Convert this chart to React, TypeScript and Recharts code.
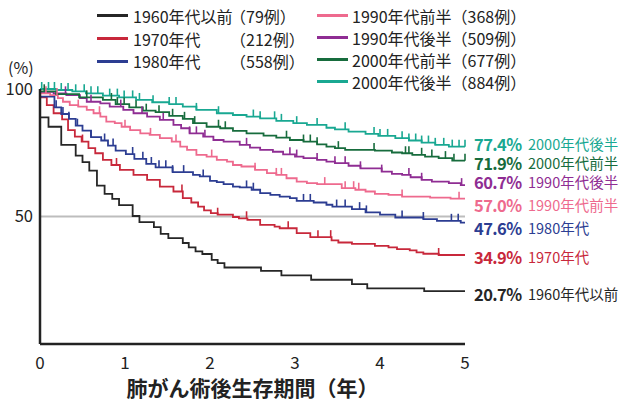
import { LineChart, Line, XAxis, YAxis, ReferenceLine } from 'recharts';

type Pt = [number, number];

// Kaplan-Meier steps: [years, survival %]
const km1960: Pt[] = [
  [0, 88.9], [0.1, 85.2], [0.25, 78.1], [0.42, 73.9], [0.5, 71.3], [0.58, 68.0], [0.67, 62.1], [0.76, 58.9],
  [0.85, 56.9], [0.93, 54.5], [1.09, 50.2], [1.17, 47.8], [1.34, 45.8], [1.42, 43.2], [1.51, 41.5], [1.68, 39.6],
  [1.75, 37.9], [1.83, 36.3], [1.91, 35.3], [2.02, 33.0], [2.09, 31.7], [2.17, 30.0], [2.6, 28.7], [2.84, 26.9],
  [3.19, 25.2], [3.67, 23.5], [3.85, 21.8], [4.52, 20.7], [5, 20.7],
];
const km1970: Pt[] = [
  [0, 96.7], [0.08, 93.7], [0.16, 90.5], [0.26, 88.1], [0.33, 83.9], [0.41, 81.3], [0.49, 79.4], [0.57, 76.8],
  [0.65, 74.8], [0.74, 72.2], [0.84, 70.2], [0.94, 68.3], [1.1, 66.3], [1.26, 64.4], [1.41, 61.7], [1.57, 59.8],
  [1.68, 57.2], [1.78, 55.5], [1.86, 53.9], [1.93, 52.4], [2.01, 51.3], [2.09, 50.7], [2.27, 49.8], [2.34, 49.3],
  [2.44, 48.7], [2.59, 46.7], [2.76, 46.0], [2.82, 45.4], [3.02, 43.5], [3.18, 41.9], [3.43, 40.6], [3.51, 39.8],
  [3.67, 39.3], [3.94, 38.5], [4.1, 37.9], [4.2, 37.2], [4.35, 36.7], [4.43, 35.9], [4.51, 35.4], [4.69, 34.9], [5, 34.9],
];
const km1980: Pt[] = [
  [0, 97.0], [0.17, 92.8], [0.25, 90.2], [0.34, 88.3], [0.42, 85.6], [0.5, 83.7], [0.6, 81.1], [0.72, 79.8],
  [0.8, 77.8], [0.89, 75.8], [1.01, 74.5], [1.11, 72.6], [1.25, 70.6], [1.36, 69.3], [1.56, 67.4], [1.8, 66.3],
  [1.88, 65.7], [2.0, 64.0], [2.08, 63.5], [2.16, 62.7], [2.27, 61.7], [2.35, 61.4], [2.49, 60.5], [2.59, 59.2],
  [2.71, 58.5], [2.82, 57.8], [2.94, 57.2], [3.02, 56.1], [3.22, 55.5], [3.37, 54.6], [3.44, 53.9], [3.67, 52.9],
  [3.83, 51.6], [4.0, 50.7], [4.18, 49.6], [4.51, 49.0], [4.67, 48.3], [4.95, 47.6], [5, 47.6],
];
const km1990a: Pt[] = [
  [0, 98.3], [0.12, 97.6], [0.21, 96.4], [0.27, 95.0], [0.35, 93.7], [0.45, 93.1], [0.55, 91.8], [0.63, 90.5],
  [0.71, 89.2], [0.78, 87.2], [0.88, 86.6], [0.96, 85.2], [1.06, 83.9], [1.18, 82.6], [1.29, 82.0], [1.41, 80.7],
  [1.55, 79.4], [1.65, 77.4], [1.73, 76.1], [1.84, 74.2], [1.96, 73.5], [2.08, 72.2], [2.2, 71.5], [2.27, 70.2],
  [2.37, 69.6], [2.53, 68.3], [2.67, 67.0], [2.78, 66.3], [2.9, 65.0], [3.02, 63.7], [3.14, 63.1], [3.26, 62.7],
  [3.55, 61.1], [3.71, 60.5], [3.83, 59.8], [3.94, 58.9], [4.1, 58.5], [4.26, 57.8], [4.59, 57.4], [4.83, 57.0], [5, 57.0],
];
const km1990b: Pt[] = [
  [0, 98.9], [0.16, 98.3], [0.31, 97.6], [0.47, 96.4], [0.55, 95.0], [0.71, 94.4], [0.82, 93.1], [0.98, 91.8],
  [1.1, 90.5], [1.26, 89.2], [1.41, 87.9], [1.57, 85.9], [1.66, 84.6], [1.76, 82.6], [1.92, 81.3], [2.04, 80.0],
  [2.16, 79.4], [2.35, 78.1], [2.47, 77.0], [2.59, 76.1], [2.74, 75.4], [2.86, 74.4], [3.0, 73.5], [3.1, 72.9],
  [3.26, 72.2], [3.37, 71.5], [3.47, 70.9], [3.63, 69.9], [3.77, 68.9], [4.02, 67.6], [4.14, 66.7], [4.26, 66.3],
  [4.36, 65.4], [4.49, 64.4], [4.61, 63.7], [4.81, 63.1], [4.95, 62.3], [5, 62.3],
];
const km2000a: Pt[] = [
  [0, 99.1], [0.19, 98.0], [0.46, 96.7], [0.74, 95.7], [0.89, 94.1], [1.05, 92.8], [1.21, 91.5], [1.36, 90.9],
  [1.52, 89.5], [1.68, 88.3], [1.8, 86.6], [1.96, 85.2], [2.12, 84.6], [2.27, 83.6], [2.43, 82.6], [2.63, 81.7],
  [2.78, 80.9], [2.94, 80.0], [3.1, 79.4], [3.26, 78.3], [3.37, 77.4], [3.47, 76.8], [3.59, 76.1], [3.94, 75.8],
  [4.14, 75.1], [4.26, 74.8], [4.38, 74.2], [4.53, 73.5], [4.69, 72.9], [4.85, 71.9], [5, 71.9],
];
const km2000b: Pt[] = [
  [0, 100], [0.19, 99.6], [0.38, 99.1], [0.54, 98.3], [0.74, 97.4], [0.93, 96.7], [1.13, 95.7], [1.32, 94.8],
  [1.52, 94.1], [1.68, 93.1], [1.84, 91.8], [2.08, 90.5], [2.27, 89.8], [2.43, 89.2], [2.59, 88.5], [2.78, 87.5],
  [2.98, 86.6], [3.14, 85.9], [3.37, 84.8], [3.47, 84.2], [3.63, 83.3], [3.83, 82.4], [3.98, 81.6], [4.18, 80.7],
  [4.34, 79.8], [4.49, 79.0], [4.65, 78.1], [4.81, 77.4], [5, 77.4],
];

// censored cases (years)
const cens1960: number[] = [];
const cens1970 = [0.5, 0.9, 1.67, 2.09, 2.43, 2.92, 3.27, 3.42, 4.69];
const cens1980 = [0.19, 0.27, 0.34, 0.44, 0.6, 0.76, 0.86, 1.09, 1.21, 1.31, 1.4, 1.48, 1.56, 1.69, 1.92, 2.43, 2.51, 3.1, 3.18, 3.49, 3.59, 3.76, 3.84, 4.26, 4.51, 4.84, 4.92];
const cens1990a = [0.07, 0.2, 0.45, 0.7, 1.0, 1.3, 1.6, 2.02, 2.53, 2.78, 2.84, 3.35, 3.59, 3.69, 3.75, 4.26, 4.93];
const cens1990b = [0.3, 0.6, 0.95, 1.2, 1.45, 1.76, 1.84, 1.94, 2.43, 2.94, 3.02, 3.26, 3.47, 3.59, 3.77, 4.02, 4.34, 4.49, 4.96];
const cens2000a = [0.05, 0.55, 0.84, 0.91, 0.99, 1.13, 1.25, 1.4, 1.56, 1.7, 1.82, 2.1, 2.18, 2.9, 3.1, 3.18, 3.26, 3.51, 3.93, 4.3, 4.34, 4.49, 4.61, 4.77, 4.87, 5.0];
const cens2000b = [0.02, 0.1, 0.17, 0.25, 0.33, 0.42, 0.52, 0.6, 0.68, 0.82, 0.91, 0.99, 1.09, 1.17, 1.33, 1.52, 1.6, 1.84, 2.1, 2.51, 2.59, 2.76, 2.84, 3.02, 3.26, 3.59, 3.93, 4.0, 4.09, 4.26, 4.34, 4.42, 4.49, 4.57, 4.65, 4.75, 4.85, 4.93, 5.0];

const names = ['1960年代以前', '1970年代', '1980年代', '1990年代前半', '1990年代後半', '2000年代前半', '2000年代後半'];
const counts = ['（79例）', '（212例）', '（558例）', '（368例）', '（509例）', '（677例）', '（884例）'];
const finals = ['20.7%', '34.9%', '47.6%', '57.0%', '60.7%', '71.9%', '77.4%'];
const colors = ['#262626', '#c8283b', '#2c3d92', '#ee6a8e', '#8f2d93', '#176c3d', '#19a892'];
const steps = [km1960, km1970, km1980, km1990a, km1990b, km2000a, km2000b];
const cens = [cens1960, cens1970, cens1980, cens1990a, cens1990b, cens2000a, cens2000b];

const xTicks = [0, 1, 2, 3, 4, 5];
const yTicks = [50, 100];

const FONT = "'Noto Sans CJK JP', 'Noto Sans', sans-serif";

function survAt(s: Pt[], t: number) {
  let v = s[0][1];
  for (const [x, y] of s) if (x <= t) v = y;
  return v;
}

function build(s: Pt[], c: number[]) {
  const pts = s.map(([t, v]) => ({ t, s: v, c: false }));
  c.forEach((t) => pts.push({ t, s: survAt(s, t), c: true }));
  pts.sort((a, b) => a.t - b.t || Number(a.c) - Number(b.c));
  return pts;
}

const censorDot = (color: string) => (props: any) => {
  const { cx, cy, payload, index } = props;
  if (!payload || !payload.c || cx == null) return <g key={'d' + index} />;
  return <line key={'d' + index} x1={cx} x2={cx} y1={cy} y2={cy - 7} stroke={color} strokeWidth={1.6} />;
};

// legend slots: [swatch x, text x, y center, name width]
const legendPos: [number, number, number, number | undefined][] = [
  [97, 133, 15.5, 97], [97, 133, 38.5, 97], [97, 133, 61, 97],
  [317, 352, 15.5, undefined], [317, 352, 37.5, undefined], [317, 352, 59.5, undefined], [317, 352, 81.5, undefined],
];
const endY = [294, 257, 227.5, 205, 181.5, 162.5, 143.5];

const box = (h: number) => ({ display: 'inline-block', height: h, lineHeight: h + 'px', overflow: 'visible' as const });

export default function App() {
  const series = steps.map((s, i) => build(s, cens[i]));
  return (
    <div style={{ position: 'absolute', left: 0, top: 0, width: 624, height: 405, background: '#fff', fontFamily: FONT, color: '#222' }}>
      <LineChart width={624} height={405} margin={{ top: 89, right: 159, bottom: 31, left: 0 }} style={{ fontFamily: FONT }}>
        <XAxis
          type="number" dataKey="t" domain={[0, 5]} ticks={xTicks} height={30}
          axisLine={{ stroke: '#222', strokeWidth: 2.5 }} tickLine={false} tickSize={0} tickMargin={13}
          tick={{ fontSize: 17, fill: '#222' }} allowDuplicatedCategory={false}
        />
        <YAxis
          type="number" domain={[0, 100]} ticks={yTicks} width={40}
          axisLine={{ stroke: '#222', strokeWidth: 2.5 }} tickLine={false} tickSize={0} tickMargin={7}
          tick={{ fontSize: 16.5, fill: '#222' }}
        />
        <ReferenceLine y={50} stroke="#bdbdbd" strokeWidth={2} />
        {series.map((d, i) => (
          <Line
            key={names[i]} data={d} dataKey="s" type="stepAfter" stroke={colors[i]} strokeWidth={1.8}
            dot={censorDot(colors[i])} activeDot={false} isAnimationActive={false}
          />
        ))}
      </LineChart>

      <div style={{ position: 'absolute', left: 8, top: 59, fontSize: 16, ...box(16) }}>(%)</div>

      {names.map((n, i) => {
        const [sx, tx, y, w] = legendPos[i];
        return (
          <div key={n}>
            <div style={{ position: 'absolute', left: sx, top: y - 1.5, width: 31, height: 3, background: colors[i] }} />
            <div style={{ position: 'absolute', left: tx, top: y - 9, height: 18, fontSize: 16, whiteSpace: 'nowrap', display: 'flex' }}>
              <span style={{ ...box(18), width: w }}>{n}</span>
              <span style={box(18)}>{counts[i]}</span>
            </div>
          </div>
        );
      })}

      {names.map((n, i) => (
        <div key={'e' + n} style={{ position: 'absolute', left: 474, top: endY[i] - 8, height: 16, whiteSpace: 'nowrap', color: colors[i], display: 'flex' }}>
          <span style={{ ...box(16), width: 54, fontSize: 16.5, fontWeight: 700, letterSpacing: -0.6 }}>{finals[i]}</span>
          <span style={{ ...box(16), fontSize: 14.5 }}>{n}</span>
        </div>
      ))}

      <div style={{ position: 'absolute', left: 40, width: 425, top: 373, textAlign: 'center', fontSize: 21, fontWeight: 700, lineHeight: '28px' }}>
        肺がん術後生存期間（年）
      </div>
    </div>
  );
}
